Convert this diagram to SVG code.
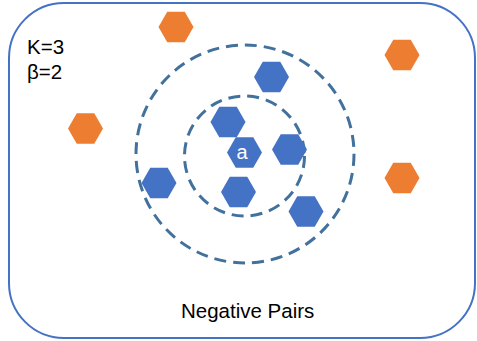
<svg xmlns="http://www.w3.org/2000/svg" xmlns:xlink="http://www.w3.org/1999/xlink" width="477" height="341" viewBox="0 0 477 341">
<style>
.frame{fill:#fff;stroke:#4472C4;stroke-width:2}
.ring{fill:none;stroke:#41719C;stroke-width:3;stroke-dasharray:12 7}
.neg{fill:#ED7D31}
.pos{fill:#4472C4}
.lbl{font-family:"Liberation Sans",Arial,sans-serif;font-size:20.5px;fill:#000}
.nl{font-family:"Liberation Sans",Arial,sans-serif;font-size:20px;fill:#fff;text-anchor:middle}
</style>
<defs>
<path id="hex" d="M-17.5,0 L-8.75,-15.2 L8.75,-15.2 L17.5,0 L8.75,15.2 L-8.75,15.2 Z"/>
</defs>
<rect class="frame" x="9" y="3" width="466" height="335" rx="55" ry="55"/>
<g id="connectors">
<circle class="ring" cx="245" cy="154" r="109"/>
<circle class="ring" cx="244.5" cy="156" r="60"/>
</g>
<g id="o1" class="neg"><use xlink:href="#hex" transform="translate(176,27)"/></g>
<g id="o2" class="neg"><use xlink:href="#hex" transform="translate(85.5,128.5)"/></g>
<g id="o3" class="neg"><use xlink:href="#hex" transform="translate(402,55)"/></g>
<g id="o4" class="neg"><use xlink:href="#hex" transform="translate(402,178)"/></g>
<g id="b1" class="pos"><use xlink:href="#hex" transform="translate(271.5,77)"/></g>
<g id="b2" class="pos"><use xlink:href="#hex" transform="translate(228,122)"/></g>
<g id="b3" class="pos"><use xlink:href="#hex" transform="translate(289.5,149.5)"/></g>
<g id="b4" class="pos"><use xlink:href="#hex" transform="translate(238.5,192)"/></g>
<g id="b5" class="pos"><use xlink:href="#hex" transform="translate(159,183)"/></g>
<g id="b6" class="pos"><use xlink:href="#hex" transform="translate(306,211.5)"/></g>
<g id="a" class="pos"><use xlink:href="#hex" transform="translate(244.5,152.5)"/><text class="nl" x="242" y="159">a</text></g>
<g id="params">
<text class="lbl" x="27" y="54">K=3</text>
<text class="lbl" x="27" y="79">β=2</text>
</g>
<g id="title"><text class="lbl" x="181" y="318">Negative Pairs</text></g>
</svg>
